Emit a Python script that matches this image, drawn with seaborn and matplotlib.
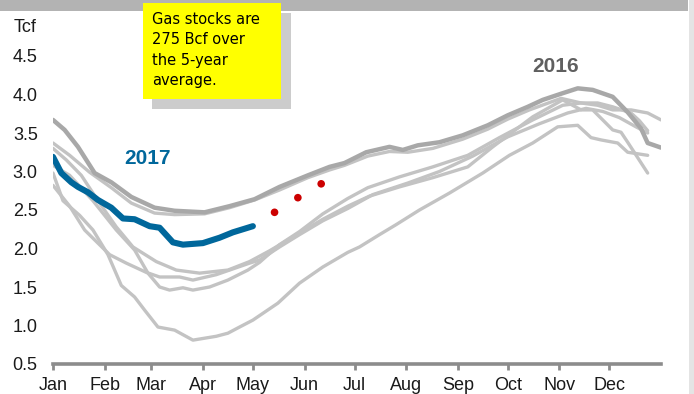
import matplotlib
matplotlib.use("Agg")
import matplotlib.pyplot as plt
from matplotlib.patches import Rectangle
import pandas as pd
import seaborn as sns

# ---- data: working gas in storage, Tcf, by day of year ----
MONTHS = ["Jan", "Feb", "Mar", "Apr", "May", "Jun",
          "Jul", "Aug", "Sep", "Oct", "Nov", "Dec"]
MONTH_START_DAY = [0, 31, 59, 90, 120, 151, 181, 212, 243, 273, 304, 334]
Y_TICKS = [0.5, 1.0, 1.5, 2.0, 2.5, 3.0, 3.5, 4.0, 4.5]

day_2011 = [0, 10, 19, 34, 44, 56, 64, 76, 84, 98, 118, 124, 136, 148, 162, 177,
            192, 213, 232, 252, 273, 292, 309, 320, 330, 340, 350, 357]
tcf_2011 = [2.82, 2.55, 2.24, 1.92, 1.81, 1.69, 1.63, 1.63, 1.59, 1.66, 1.81, 1.85,
            2.02, 2.18, 2.36, 2.52, 2.70, 2.85, 3.00, 3.20, 3.45, 3.62, 3.76, 3.82,
            3.78, 3.70, 3.58, 3.50]

day_2012 = [0, 10, 22, 35, 47, 61, 73, 91, 106, 121, 136, 153, 166, 175, 189, 202,
            213, 228, 246, 261, 273, 286, 305, 317, 327, 336, 347, 352, 357]
tcf_2012 = [3.37, 3.21, 2.99, 2.79, 2.59, 2.46, 2.44, 2.45, 2.53, 2.63, 2.76, 2.92,
            3.02, 3.08, 3.20, 3.26, 3.25, 3.30, 3.42, 3.55, 3.68, 3.80, 3.95, 3.89,
            3.89, 3.84, 3.76, 3.66, 3.53]

day_2013 = [0, 8, 17, 27, 38, 48, 62, 74, 88, 105, 118, 130, 148, 162, 177, 190,
            208, 228, 249, 264, 288, 306, 317, 324, 330, 336, 341, 345, 351, 357]
tcf_2013 = [3.30, 3.15, 2.95, 2.62, 2.28, 2.02, 1.83, 1.72, 1.68, 1.72, 1.83, 1.97,
            2.20, 2.38, 2.55, 2.68, 2.80, 2.92, 3.06, 3.32, 3.71, 3.93, 3.80, 3.80,
            3.67, 3.54, 3.51, 3.38, 3.18, 2.98]

day_2014 = [0, 6, 16, 24, 33, 41, 49, 55, 63, 73, 84, 98, 105, 112, 120, 135, 148,
            162, 177, 184, 196, 206, 220, 238, 258, 274, 288, 303, 315, 323, 329,
            339, 345, 357]
tcf_2014 = [2.98, 2.62, 2.43, 2.24, 1.92, 1.52, 1.37, 1.20, 0.98, 0.94, 0.81, 0.86,
            0.90, 0.98, 1.07, 1.29, 1.55, 1.76, 1.95, 2.02, 2.18, 2.31, 2.50, 2.72,
            2.98, 3.21, 3.37, 3.58, 3.60, 3.44, 3.41, 3.37, 3.25, 3.21]

day_2015 = [0, 10, 24, 38, 49, 57, 64, 70, 78, 84, 94, 105, 117, 124, 136, 148, 162,
            177, 189, 208, 228, 249, 268, 288, 306, 317, 327, 336, 347, 357, 365]
tcf_2015 = [3.08, 2.95, 2.62, 2.24, 1.98, 1.68, 1.50, 1.46, 1.49, 1.46, 1.50, 1.59,
            1.72, 1.82, 2.05, 2.22, 2.45, 2.65, 2.79, 2.93, 3.06, 3.21, 3.44, 3.67,
            3.86, 3.89, 3.86, 3.80, 3.80, 3.76, 3.67]

day_2016 = [0, 7, 15, 25, 35, 47, 61, 73, 91, 106, 121, 136, 153, 166, 175, 188, 202,
            210, 219, 232, 246, 261, 273, 285, 294, 305, 315, 324, 336, 345, 353,
            357, 365]
tcf_2016 = [3.67, 3.54, 3.32, 2.98, 2.86, 2.67, 2.53, 2.49, 2.47, 2.55, 2.64, 2.80,
            2.95, 3.06, 3.11, 3.25, 3.32, 3.28, 3.34, 3.38, 3.47, 3.60, 3.73, 3.84,
            3.93, 4.01, 4.08, 4.06, 3.97, 3.77, 3.56, 3.37, 3.31]

day_2017 = [0, 5, 11, 15, 21, 27, 35, 42, 49, 58, 64, 72, 78, 90, 100, 108, 120]
tcf_2017 = [3.19, 2.98, 2.86, 2.80, 2.73, 2.63, 2.53, 2.39, 2.38, 2.29, 2.27, 2.08,
            2.05, 2.07, 2.14, 2.21, 2.29]

day_forecast = [133, 147, 161]
tcf_forecast = [2.47, 2.66, 2.84]

NOTE = "Gas stocks are\n275 Bcf over\nthe 5-year\naverage."

# ---- style ----
W, H = 694, 394
BLUE = "#00679b"
LIGHT = "#c3c3c3"
MID = "#a8a8a8"
AXIS = "#8c8c8c"

sns.set_theme(style="white")
plt.rcParams["font.family"] = ["Liberation Sans", "DejaVu Sans"]

fig = plt.figure(figsize=(W / 100, H / 100), dpi=100)
fig.patch.set_facecolor("white")
ax = fig.add_axes([53 / W, 30 / H, (661 - 53) / W, 346.5 / H])
ax.set_facecolor("none")


def px_rect(x0, y0, x1, y1, color, z):
    """Rectangle given in figure pixels measured from the top-left corner."""
    r = Rectangle((x0 / W, 1 - y1 / H), (x1 - x0) / W, (y1 - y0) / H,
                  transform=fig.transFigure, facecolor=color, edgecolor="none",
                  zorder=z)
    fig.add_artist(r)


# header band and right-hand strip
px_rect(0, 0, 688, 11, "#b3b3b3", 0)
px_rect(689, 0, 694, 394, "#e4e4e4", 0)

# earlier years in light grey
for d, v in [(day_2011, tcf_2011), (day_2012, tcf_2012), (day_2013, tcf_2013),
             (day_2014, tcf_2014), (day_2015, tcf_2015)]:
    df = pd.DataFrame({"day": d, "tcf": v})
    sns.lineplot(data=df, x="day", y="tcf", ax=ax, color=LIGHT, linewidth=2.4,
                 estimator=None, sort=False, solid_joinstyle="round",
                 solid_capstyle="round", zorder=2)

# last year, slightly darker and heavier
df16 = pd.DataFrame({"day": day_2016, "tcf": tcf_2016})
sns.lineplot(data=df16, x="day", y="tcf", ax=ax, color=MID, linewidth=3.2,
             estimator=None, sort=False, solid_joinstyle="round",
             solid_capstyle="round", zorder=3)

# current year
df17 = pd.DataFrame({"day": day_2017, "tcf": tcf_2017})
sns.lineplot(data=df17, x="day", y="tcf", ax=ax, color=BLUE, linewidth=4.4,
             estimator=None, sort=False, solid_joinstyle="round",
             solid_capstyle="round", zorder=4)

# projected points
dff = pd.DataFrame({"day": day_forecast, "tcf": tcf_forecast})
sns.scatterplot(data=dff, x="day", y="tcf", ax=ax, color="#cc0000", s=30,
                edgecolor="none", zorder=5)

ax.text(57, 3.17, "2017", color=BLUE, fontsize=15, fontweight="bold",
        ha="center", va="center")
ax.text(302, 4.37, "2016", color="#5f5f5f", fontsize=15, fontweight="bold",
        ha="center", va="center")

# axes
ax.set_xlim(0, 365)
ax.set_ylim(0.5, 5.0)
ax.set_xlabel("")
ax.set_ylabel("")
for side in ["left", "top", "right"]:
    ax.spines[side].set_visible(False)
ax.spines["bottom"].set_color(AXIS)
ax.spines["bottom"].set_linewidth(2.6)

ax.set_xticks(MONTH_START_DAY)
ax.set_xticklabels(MONTHS)
ax.set_yticks(Y_TICKS)
ax.set_yticklabels([f"{t:.1f}" for t in Y_TICKS])
ax.tick_params(axis="x", length=4, width=2, color=AXIS, pad=5.5,
               labelsize=13, labelcolor="#1a1a1a", bottom=True)
ax.tick_params(axis="y", length=0, pad=11, labelsize=13, labelcolor="#1a1a1a",
               left=True)
ax.grid(False)

fig.text(14 / W, 1 - 27 / H, "Tcf", fontsize=13, color="#1a1a1a",
         ha="left", va="center")

# call-out note
px_rect(152, 13, 291, 109, "#cccccc", 6)
px_rect(143, 3, 281, 99, "#ffff00", 7)
fig.text(152 / W, 1 - 12 / H, NOTE, fontsize=10.5, color="black",
         ha="left", va="top", linespacing=1.45, zorder=8,
         family=["DejaVu Sans"])

fig.savefig("out.png", dpi=100)
